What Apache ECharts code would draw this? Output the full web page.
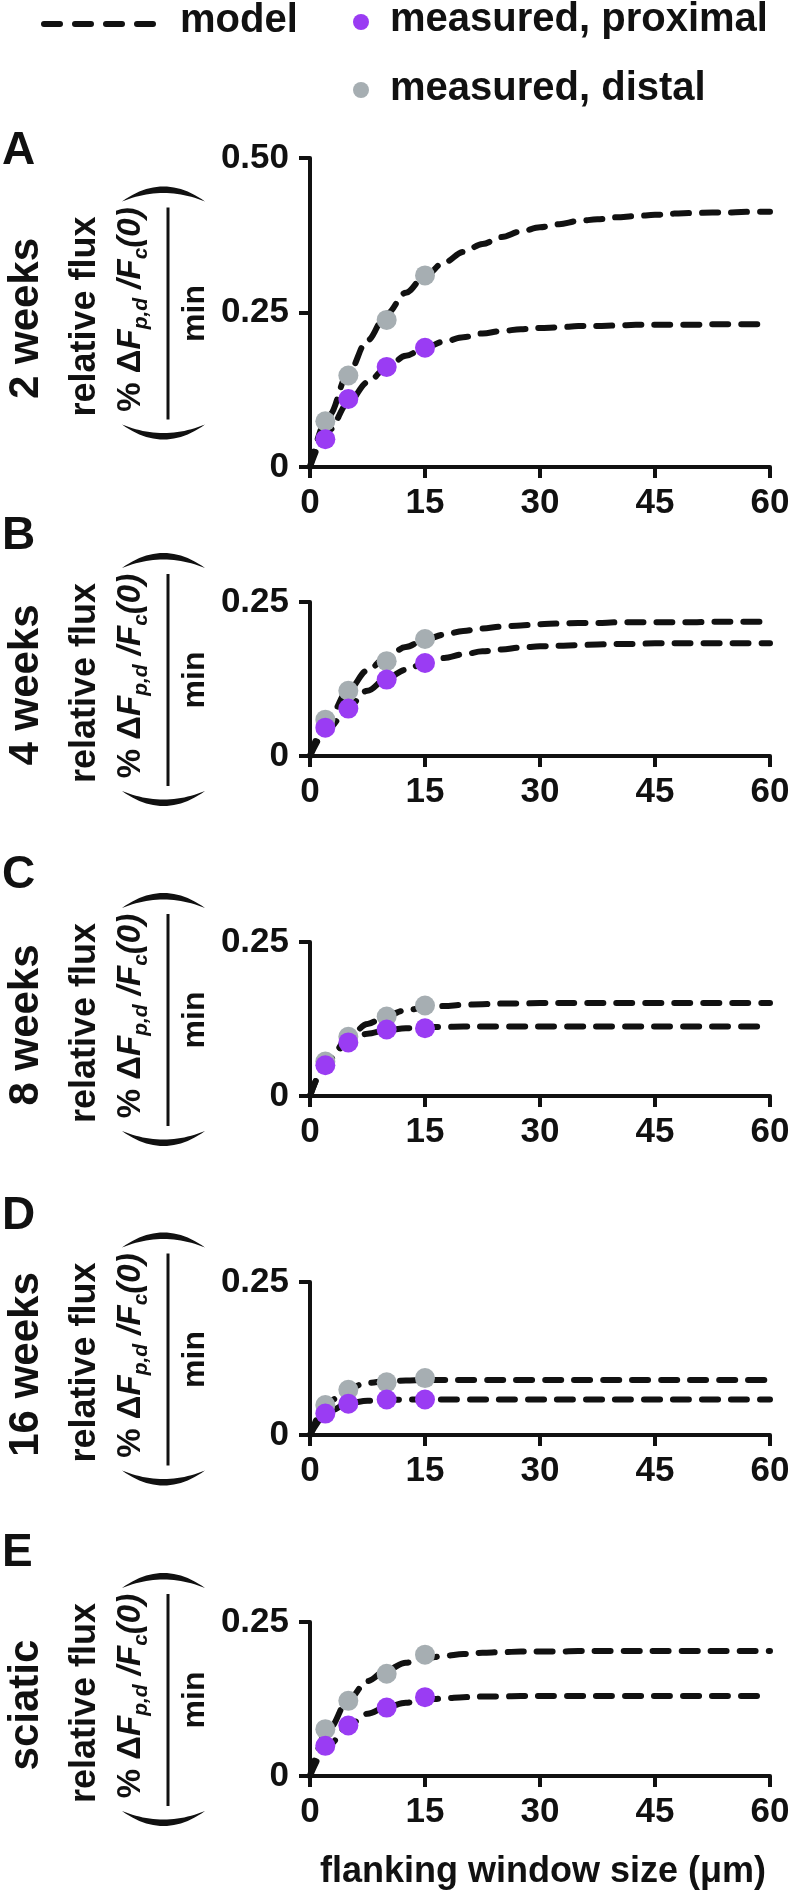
<!DOCTYPE html>
<html><head><meta charset="utf-8">
<script src="https://cdn.jsdelivr.net/npm/echarts@6/dist/echarts.min.js"></script>
<style>html,body{margin:0;padding:0;background:#fff}#c{width:792px;height:1897px}</style>
</head><body><div id="c"></div>
<script>
// ---------- data ----------
const panelLetters = ['A', 'B', 'C', 'D', 'E'];
const panelNames = ['2 weeks', '4 weeks', '8 weeks', '16 weeks', 'sciatic'];
const xTicks = [0, 15, 30, 45, 60];
const yMaxes = [0.5, 0.25, 0.25, 0.25, 0.25];
const measuredX = [2, 5, 10, 15];
const proxA = [0.045, 0.110, 0.162, 0.193];
const distA = [0.074, 0.148, 0.238, 0.310];
const proxB = [0.046, 0.077, 0.124, 0.151];
const distB = [0.059, 0.106, 0.154, 0.190];
const proxC = [0.050, 0.087, 0.108, 0.110];
const distC = [0.056, 0.096, 0.129, 0.147];
const proxD = [0.035, 0.051, 0.058, 0.058];
const distD = [0.049, 0.074, 0.086, 0.093];
const proxE = [0.049, 0.082, 0.111, 0.128];
const distE = [0.076, 0.122, 0.166, 0.197];
const modelX = [0, 2.5, 5, 7.5, 10, 12.5, 15, 17.5, 20, 22.5, 25, 27.5, 30, 32.5, 35, 37.5, 40, 42.5, 45, 47.5, 50, 52.5, 55, 57.5, 60];
const modelProxA = [0, 0.060, 0.104, 0.137, 0.161, 0.180, 0.193, 0.203, 0.210, 0.216, 0.220, 0.223, 0.225, 0.226, 0.228, 0.228, 0.229, 0.230, 0.230, 0.230, 0.230, 0.231, 0.231, 0.231, 0.231];
const modelDistA = [0, 0.084, 0.152, 0.205, 0.248, 0.282, 0.309, 0.331, 0.348, 0.361, 0.372, 0.381, 0.388, 0.393, 0.398, 0.401, 0.404, 0.406, 0.408, 0.410, 0.411, 0.412, 0.412, 0.413, 0.413];
const modelProxB = [0, 0.046, 0.080, 0.106, 0.126, 0.140, 0.151, 0.159, 0.165, 0.170, 0.173, 0.176, 0.178, 0.179, 0.180, 0.181, 0.182, 0.182, 0.183, 0.183, 0.183, 0.183, 0.183, 0.183, 0.183];
const modelDistB = [0, 0.062, 0.107, 0.139, 0.161, 0.177, 0.189, 0.197, 0.203, 0.207, 0.210, 0.212, 0.214, 0.215, 0.216, 0.216, 0.217, 0.217, 0.217, 0.217, 0.217, 0.218, 0.218, 0.218, 0.218];
const modelProxC = [0, 0.060, 0.088, 0.101, 0.107, 0.110, 0.112, 0.112, 0.113, 0.113, 0.113, 0.113, 0.113, 0.113, 0.113, 0.113, 0.113, 0.113, 0.113, 0.113, 0.113, 0.113, 0.113, 0.113, 0.113];
const modelDistC = [0, 0.059, 0.095, 0.117, 0.131, 0.139, 0.144, 0.146, 0.148, 0.149, 0.150, 0.150, 0.151, 0.151, 0.151, 0.151, 0.151, 0.151, 0.151, 0.151, 0.151, 0.151, 0.151, 0.151, 0.151];
const modelProxD = [0, 0.039, 0.052, 0.056, 0.057, 0.058, 0.058, 0.058, 0.058, 0.058, 0.058, 0.058, 0.058, 0.058, 0.058, 0.058, 0.058, 0.058, 0.058, 0.058, 0.058, 0.058, 0.058, 0.058, 0.058];
const modelDistD = [0, 0.055, 0.077, 0.085, 0.088, 0.089, 0.090, 0.090, 0.090, 0.090, 0.090, 0.090, 0.090, 0.090, 0.090, 0.090, 0.090, 0.090, 0.090, 0.090, 0.090, 0.090, 0.090, 0.090, 0.090];
const modelProxE = [0, 0.051, 0.082, 0.101, 0.112, 0.119, 0.124, 0.126, 0.128, 0.129, 0.129, 0.130, 0.130, 0.130, 0.130, 0.130, 0.130, 0.130, 0.130, 0.130, 0.130, 0.130, 0.130, 0.130, 0.130];
const modelDistE = [0, 0.077, 0.124, 0.154, 0.172, 0.184, 0.191, 0.195, 0.198, 0.200, 0.201, 0.202, 0.202, 0.202, 0.203, 0.203, 0.203, 0.203, 0.203, 0.203, 0.203, 0.203, 0.203, 0.203, 0.203];

const measuredProx = [proxA, proxB, proxC, proxD, proxE];
const measuredDist = [distA, distB, distC, distD, distE];
const modelProx = [modelProxA, modelProxB, modelProxC, modelProxD, modelProxE];
const modelDist = [modelDistA, modelDistB, modelDistC, modelDistD, modelDistE];

// ---------- layout / style ----------
const FONT = '"Liberation Sans", Arial, Helvetica, sans-serif';
const INK = '#111111';
const PURPLE = '#9a3cf3';
const GRAY = '#a6aeb2';
const gridTops = [158, 602, 942, 1282, 1622];
const gridHeights = [309, 154, 154, 153, 154];
const letterY = [151, 536, 875, 1216, 1553];

const pairs = xs => (ys => ys.map((v, i) => [xs[i], v]));
const mctx = document.createElement('canvas').getContext('2d');
const measure = (s, font) => { mctx.font = font; return mctx.measureText(s).width; };

// numerator pieces: [text, italic, subscript]
const numPieces = [['% Δ', false, false], ['F', true, false], ['p,d', true, true], [' /F', true, false], ['c', true, true], ['(0)', true, false]];
const NUM_SIZE = 33, SUB_SIZE = 21;

function parenPolygon(xl, xr, yEnd, dir) {
  // crescent-shaped parenthesis drawn as polygon (dir = -1 upward bulge, +1 downward)
  const xm = (xl + xr) / 2, pts = [];
  const outerC = yEnd + dir * 30, innerC = yEnd + dir * 17;
  for (let i = 0; i <= 24; i++) {
    const t = i / 24;
    pts.push([(1 - t) * (1 - t) * xl + 2 * (1 - t) * t * xm + t * t * xr,
              (1 - t) * (1 - t) * yEnd + 2 * (1 - t) * t * outerC + t * t * yEnd]);
  }
  for (let i = 23; i >= 1; i--) {
    const t = i / 24;
    pts.push([(1 - t) * (1 - t) * xl + 2 * (1 - t) * t * xm + t * t * xr,
              (1 - t) * (1 - t) * yEnd + 2 * (1 - t) * t * innerC + t * t * yEnd]);
  }
  return {type: 'polygon', shape: {points: pts}, style: {fill: INK}};
}

const grids = [], xAxes = [], yAxes = [], series = [], graphics = [];
for (let p = 0; p < 5; p++) {
  grids.push({left: 310, width: 460, top: gridTops[p], height: gridHeights[p], outerBoundsMode: 'none', containLabel: false});
  xAxes.push({
    type: 'value', gridIndex: p, min: xTicks[0], max: xTicks[xTicks.length - 1], interval: 15,
    axisLine: {show: true, onZero: false, lineStyle: {color: INK, width: 4}},
    axisTick: {show: true, length: 11, lineStyle: {color: INK, width: 4}},
    axisLabel: {show: true, color: INK, fontSize: 35, fontWeight: 'bold', fontFamily: FONT, margin: 19},
    splitLine: {show: false}
  });
  yAxes.push({
    type: 'value', gridIndex: p, min: 0, max: yMaxes[p], interval: 0.25,
    axisLine: {show: true, onZero: false, lineStyle: {color: INK, width: 4}},
    axisTick: {show: true, length: 11, lineStyle: {color: INK, width: 4}},
    axisLabel: {show: true, color: INK, fontSize: 35, fontWeight: 'bold', fontFamily: FONT, margin: 21,
      formatter: v => v === 0 ? '0' : v.toFixed(2)},
    splitLine: {show: false}
  });
  const lineStyle = {color: INK, width: 6, type: [16, 13], cap: 'round'};
  [modelProx[p], modelDist[p]].forEach(arr => {
    series.push({
      type: 'line', xAxisIndex: p, yAxisIndex: p, data: pairs(modelX)(arr),
      smooth: 0.35, smoothMonotone: 'x', showSymbol: false, symbol: 'none',
      lineStyle: lineStyle, z: 2, silent: true, animation: false
    });
  });
  series.push({type: 'scatter', xAxisIndex: p, yAxisIndex: p, data: pairs(measuredX)(measuredDist[p]),
    symbolSize: 20, itemStyle: {color: GRAY, opacity: 1}, z: 3, animation: false});
  series.push({type: 'scatter', xAxisIndex: p, yAxisIndex: p, data: pairs(measuredX)(measuredProx[p]),
    symbolSize: 20, itemStyle: {color: PURPLE, opacity: 1}, z: 4, animation: false});

  // panel letter
  graphics.push({type: 'text', x: 2, y: letterY[p],
    style: {text: panelLetters[p], fill: INK, fontSize: 46, fontWeight: 'bold', fontFamily: FONT,
      align: 'left', verticalAlign: 'middle', textAlign: 'left', textVerticalAlign: 'middle'}});

  // rotated y-axis label block (local x -> screen up, local y -> screen right)
  const yc = gridTops[p] + gridHeights[p] / 2 + 1;
  const txt = (s, x, y, size, extra) => Object.assign({type: 'text', x: x, y: y,
    style: Object.assign({text: s, fill: INK, fontSize: size, fontWeight: 'bold', fontFamily: FONT,
      align: 'center', verticalAlign: 'middle', textAlign: 'center', textVerticalAlign: 'middle'}, extra || {})});
  const children = [
    txt(panelNames[p], -5, 26, 42),
    txt('relative flux', -3, 85, 36),
    {type: 'line', shape: {x1: -106, y1: 168, x2: 106, y2: 168}, style: {stroke: INK, lineWidth: 3}},
    txt('min', 0, 195, 32)
  ];
  // numerator laid out piece by piece
  const fonts = numPieces.map(pc => (pc[1] ? 'italic ' : '') + 'bold ' + (pc[2] ? SUB_SIZE : NUM_SIZE) + 'px ' + FONT);
  const widths = numPieces.map((pc, i) => measure(pc[0], fonts[i]));
  const total = widths.reduce((a, b) => a + b, 0);
  let cur = 4 - total / 2;
  numPieces.forEach((pc, i) => {
    children.push({type: 'text', x: cur, y: pc[2] ? 141 : 131,
      style: {text: pc[0], fill: INK, fontSize: pc[2] ? SUB_SIZE : NUM_SIZE, fontWeight: 'bold',
        fontStyle: pc[1] ? 'italic' : 'normal', fontFamily: FONT,
        align: 'left', verticalAlign: 'middle', textAlign: 'left', textVerticalAlign: 'middle'}});
    cur += widths[i];
  });
  graphics.push({type: 'group', x: 0, y: yc, rotation: Math.PI / 2, children: children});
  // big parentheses around the fraction (drawn in screen space)
  graphics.push(parenPolygon(122, 205, yc - 112, -1));
  graphics.push(parenPolygon(122, 205, yc + 111, 1));
}

// legend
graphics.push({type: 'line', shape: {x1: 44, y1: 24, x2: 154, y2: 24},
  style: {stroke: INK, lineWidth: 6, lineDash: [16, 15], lineCap: 'round'}});
const legText = (s, x, y) => ({type: 'text', x: x, y: y,
  style: {text: s, fill: INK, fontSize: 40, fontWeight: 'bold', fontFamily: FONT,
    align: 'left', verticalAlign: 'middle', textAlign: 'left', textVerticalAlign: 'middle'}});
graphics.push(legText('model', 180, 21));
graphics.push({type: 'circle', shape: {cx: 361, cy: 22, r: 8}, style: {fill: PURPLE}});
graphics.push(legText('measured, proximal', 390, 20));
graphics.push({type: 'circle', shape: {cx: 361, cy: 90, r: 8}, style: {fill: GRAY}});
graphics.push(legText('measured, distal', 390, 89));
// x-axis title
graphics.push({type: 'text', x: 543, y: 1872,
  style: {text: 'flanking window size (μm)', fill: INK, fontSize: 36, fontWeight: 'bold', fontFamily: FONT,
    align: 'center', verticalAlign: 'middle', textAlign: 'center', textVerticalAlign: 'middle'}});

const chart = echarts.init(document.getElementById('c'), null, {renderer: 'canvas'});
chart.setOption({
  animation: false,
  backgroundColor: '#ffffff',
  textStyle: {fontFamily: FONT},
  grid: grids, xAxis: xAxes, yAxis: yAxes, series: series,
  graphic: {elements: graphics}
});
</script></body></html>
